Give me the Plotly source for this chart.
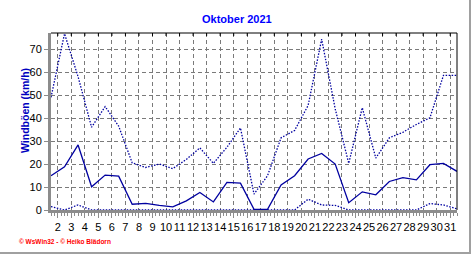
import plotly.graph_objects as go

days = list(range(1, 32))
gust_max = [49, 76.7, 58, 36, 45, 36.5, 20.5, 18.5, 20, 18, 22, 27, 20.3, 27.3, 35.7, 6.9,
            14.9, 31.4, 34.6, 45.5, 74.3, 44, 20.3, 44.5, 22.6, 31.4, 33.8, 37.2, 40.1, 58.6, 58.6]
gust_avg = [14.9, 18.8, 28.3, 10.1, 15.2, 14.7, 2.5, 2.9, 2.0, 1.4, 4, 7.6, 3.5, 12, 11.7, 0.3,
            0.3, 10.9, 14.9, 22.2, 24.6, 20, 3.2, 7.9, 6.6, 12.4, 14.1, 13.1, 19.7, 20.3, 16.8]
gust_min = [1.5, 0, 2.2, 0, 0, 0, 0, 0, 0, 0, 0, 0, 0, 0, 0, 0,
            0, 0, 0, 4.7, 2.2, 2.0, 0, 0, 0, 0, 0, 0, 2.8, 2.2, 0.5]
tick_labels = [str(k) for k in range(2, 32)]
tick_pos = [k - 0.5 for k in range(2, 32)]
y_ticks = list(range(0, 80, 10))

title_text = "Oktober 2021"
y_title = "Windböen (km/h)"
footer = "© WsWin32 - © Heiko Blädorn"

line_col = "#0000A0"
fig = go.Figure()
fig.add_trace(go.Scatter(x=days, y=gust_max, mode="lines", line=dict(color=line_col, width=1.3, dash="1.5px,1.5px"), showlegend=False))
fig.add_trace(go.Scatter(x=days, y=gust_avg, mode="lines", line=dict(color=line_col, width=1.3), showlegend=False))
fig.add_trace(go.Scatter(x=days, y=gust_min, mode="lines", line=dict(color=line_col, width=1.3, dash="1.5px,1.5px"), showlegend=False))

L, R, T, B = 51, 457, 33, 210
W, H = 472, 255
def px(xp): return (xp - L) / (R - L)
def py(yp): return (B - yp) / (B - T)

grid_col = "#7A7A7A"
fig.update_layout(
    width=W, height=H,
    margin=dict(l=L, r=W - R, t=T, b=H - B),
    paper_bgcolor="white", plot_bgcolor="white",
    font=dict(family="Liberation Sans, Arial", size=11, color="black"),
    xaxis=dict(range=[1, 31], tickmode="array", tickvals=tick_pos, ticktext=tick_labels, tickangle=0,
               showgrid=True, gridcolor=grid_col, griddash="4px,3px", gridwidth=1,
               showline=True, linecolor="#8C8C8C", linewidth=3, mirror=False,
               ticks="outside", ticklen=5, tickcolor="#8C8C8C", tickwidth=1,
               minor=dict(ticks="outside", ticklen=3, tickcolor="#8C8C8C", dtick=0.25, tick0=0.5),
               zeroline=False, tickfont=dict(size=11)),
    yaxis=dict(range=[0, 77], tickmode="array", tickvals=y_ticks, showgrid=True, gridcolor=grid_col,
               griddash="4px,3px", gridwidth=1,
               showline=True, linecolor="#8C8C8C", linewidth=3, ticks="outside", ticklen=4,
               tickcolor="#8C8C8C", zeroline=False, tickfont=dict(size=11)),
    annotations=[
        dict(text="<b>" + title_text + "</b>", xref="paper", yref="paper", x=px(237), y=py(19), showarrow=False,
             font=dict(size=11, color="#0000FF", family="Liberation Sans, Arial"), xanchor="center", yanchor="middle"),
        dict(text="<b>" + y_title + "</b>", xref="paper", yref="paper", x=px(25), y=py(110), showarrow=False,
             textangle=-90, font=dict(size=10.5, color="#0000C0", family="Liberation Sans, Arial"),
             xanchor="center", yanchor="middle"),
        dict(text="<b>" + footer + "</b>", xref="paper", yref="paper", x=px(17), y=py(241), showarrow=False,
             font=dict(size=6.5, color="#FF0000", family="Liberation Sans, Arial"), xanchor="left", yanchor="middle"),
    ],
    shapes=[
        dict(type="line", xref="paper", yref="paper", x0=0, x1=1, y0=1, y1=1, line=dict(color="black", width=1)),
        dict(type="line", xref="paper", yref="paper", x0=1, x1=1, y0=0, y1=1, line=dict(color="black", width=1)),
        dict(type="line", xref="paper", yref="paper", x0=px(470), x1=px(470), y0=py(0), y1=py(254),
             line=dict(color="#A0A0A0", width=2)),
        dict(type="line", xref="paper", yref="paper", x0=px(0), x1=px(471), y0=py(253), y1=py(253),
             line=dict(color="#A0A0A0", width=2)),
    ] + [
        dict(type="line", xref="x", yref="paper", x0=t, x1=t, y0=1, y1=py(T + 3), line=dict(color="black", width=1))
        for t in tick_pos
    ],
)
fig.write_html("out.html")
